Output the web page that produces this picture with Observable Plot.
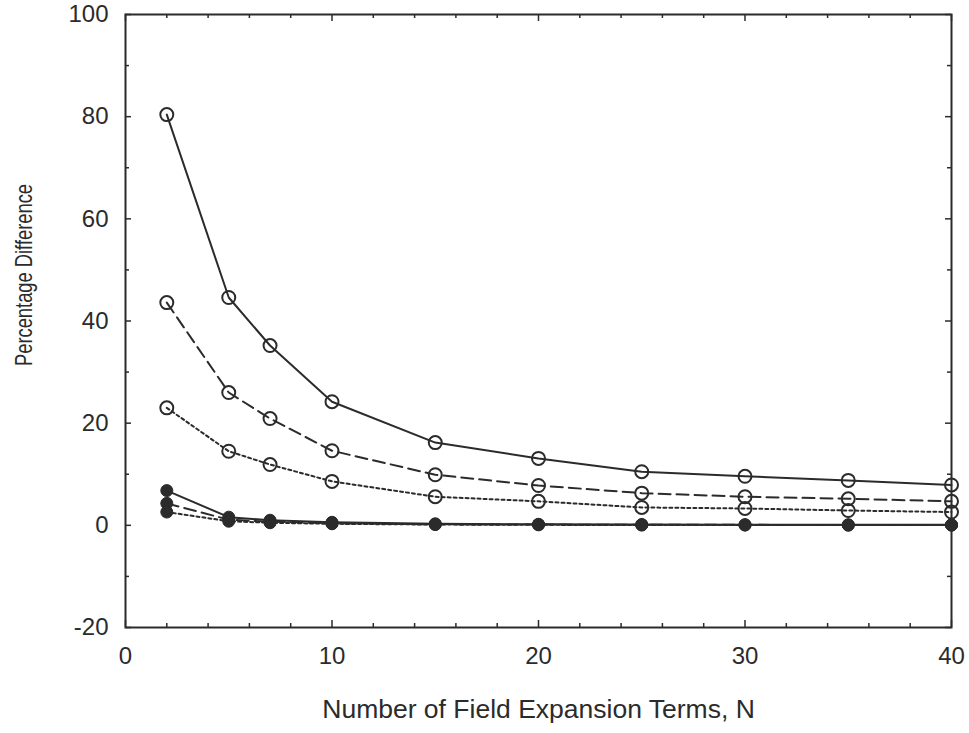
<!DOCTYPE html>
<html>
<head>
<meta charset="utf-8">
<script src="https://cdn.jsdelivr.net/npm/d3@7"></script>
<script src="https://cdn.jsdelivr.net/npm/@observablehq/plot@0.6"></script>
<style>
  html, body { margin: 0; padding: 0; background: #fff; }
</style>
</head>
<body>
<div id="chart"></div>
<script>
// Number of field expansion terms N at which each case was computed
const nTerms = [2, 5, 7, 10, 15, 20, 25, 30, 35, 40];

// Percentage difference, open-circle cases
const openSolid  = [80.4, 44.6, 35.2, 24.2, 16.2, 13.1, 10.5, 9.6, 8.8, 7.9];
const openDashed = [43.6, 26.0, 20.9, 14.6, 9.9, 7.8, 6.3, 5.6, 5.2, 4.7];
const openDotted = [23.0, 14.5, 11.9, 8.6, 5.6, 4.7, 3.5, 3.3, 2.9, 2.6];

// Percentage difference, filled-circle cases
const filledSolid  = [6.8, 1.6, 1.0, 0.6, 0.3, 0.2, 0.15, 0.1, 0.1, 0.1];
const filledDashed = [4.3, 1.1, 0.7, 0.4, 0.2, 0.15, 0.1, 0.1, 0.05, 0.05];
const filledDotted = [2.6, 0.8, 0.5, 0.3, 0.15, 0.1, 0.05, 0.05, 0.05, 0.05];

// Axis ticks
const xMajorTicks = [0, 10, 20, 30, 40];
const xMinorTicks = [2, 4, 6, 8, 12, 14, 16, 18, 22, 24, 26, 28, 32, 34, 36, 38];
const yMajorTicks = [-20, 0, 20, 40, 60, 80, 100];
const yMinorTicks = [-10, 10, 30, 50, 70, 90];

const xTitle = "Number of Field Expansion Terms, N";
const yTitle = "Percentage Difference";

const ink = "#2b2b2b";

const W = 969, H = 733;
const M = {left: 125, right: 18, top: 14, bottom: 106};
const frameW = W - M.left - M.right;
const frameH = H - M.top - M.bottom;

const series = [
  {values: openSolid,    dash: null,   filled: false},
  {values: openDashed,   dash: "12,6", filled: false},
  {values: openDotted,   dash: "3,3",  filled: false},
  {values: filledSolid,  dash: null,   filled: true},
  {values: filledDashed, dash: "12,6", filled: true},
  {values: filledDotted, dash: "3,3",  filled: true}
];

const seriesMarks = series.flatMap(s => {
  const rows = nTerms.map((n, i) => ({n, pct: s.values[i]}));
  return [
    Plot.line(rows, {x: "n", y: "pct", stroke: ink, strokeWidth: 2, strokeDasharray: s.dash}),
    s.filled
      ? Plot.dot(rows, {x: "n", y: "pct", r: 6, fill: ink, stroke: ink, strokeWidth: 1})
      : Plot.dot(rows, {x: "n", y: "pct", r: 6.5, fill: "none", stroke: ink, strokeWidth: 2})
  ];
});

// short tick marks just inside each side of the frame, as rules trimmed by insets
const inTicks = (ticks, side, size) => {
  const style = {stroke: ink, strokeWidth: 1.5};
  if (side === "bottom") return Plot.ruleX(ticks, {x: d => d, insetTop: frameH - size, ...style});
  if (side === "top") return Plot.ruleX(ticks, {x: d => d, insetBottom: frameH - size, ...style});
  if (side === "left") return Plot.ruleY(ticks, {y: d => d, insetRight: frameW - size, ...style});
  return Plot.ruleY(ticks, {y: d => d, insetLeft: frameW - size, ...style});
};

const chart = Plot.plot({
  width: W,
  height: H,
  marginLeft: M.left,
  marginRight: M.right,
  marginTop: M.top,
  marginBottom: M.bottom,
  style: {fontFamily: "'Liberation Sans', Arial, Helvetica, sans-serif", fontSize: "24px", color: ink, background: "#fff"},
  x: {domain: [0, 40]},
  y: {domain: [-20, 100]},
  marks: [
    inTicks(xMajorTicks, "bottom", 7),
    inTicks(xMinorTicks, "bottom", 4),
    inTicks(xMajorTicks, "top", 7),
    inTicks(xMinorTicks, "top", 4),
    inTicks(yMajorTicks, "left", 6),
    inTicks(yMinorTicks, "left", 4),
    inTicks(yMajorTicks, "right", 6),
    inTicks(yMinorTicks, "right", 4),
    // tick labels
    Plot.axisX(xMajorTicks, {anchor: "bottom", tickSize: 0, tickPadding: 19, fill: ink, label: null, tickFormat: d => String(d)}),
    Plot.axisY(yMajorTicks, {anchor: "left", tickSize: 0, tickPadding: 17, fill: ink, label: null, tickFormat: d => String(d)}),
    // axis titles
    Plot.text([xTitle], {frameAnchor: "bottom", dy: 90, fontSize: 26.5, fill: ink}),
    Plot.text([yTitle], {frameAnchor: "left", textAnchor: "middle", dx: -101, dy: -46, rotate: -90, fontSize: 24, fill: ink}),
    ...seriesMarks,
    Plot.frame({stroke: ink, strokeWidth: 2})
  ]
});

// the vertical title is set in a condensed run of the same face
d3.select(chart).selectAll("text")
  .filter(function () { return this.textContent === yTitle; })
  .attr("textLength", 182)
  .attr("lengthAdjust", "spacingAndGlyphs");

document.getElementById("chart").appendChild(chart);
</script>
</body>
</html>
